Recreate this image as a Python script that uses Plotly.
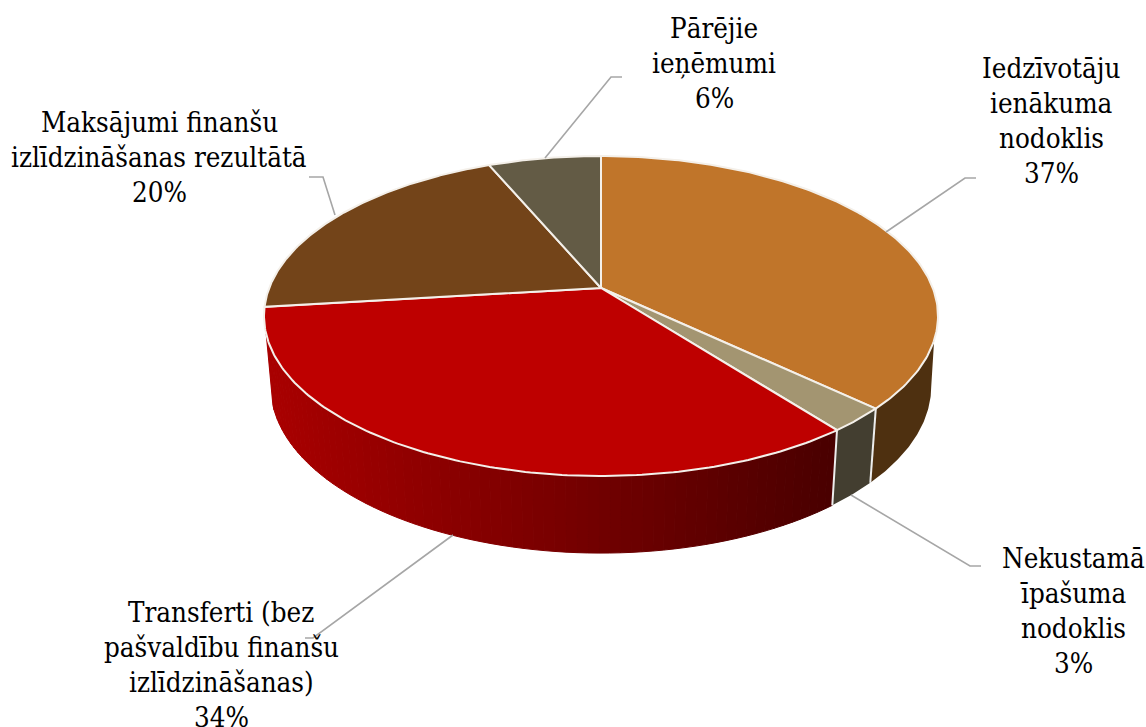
import numpy as np
import plotly.graph_objects as go

categories = [["Iedzīvotāju", "ienākuma", "nodoklis"], ["Nekustamā", "īpašuma", "nodoklis"],
              ["Transferti (bez", "pašvaldību finanšu", "izlīdzināšanas)"],
              ["Maksājumi finanšu", "izlīdzināšanas rezultātā"], ["Pārējie", "ieņēmumi"]]
shares = [37.0, 2.5, 33.6, 20.5, 6.4]
percent_labels = ["37%", "3%", "34%", "20%", "6%"]

top_colors = ["#C0752A", "#A39571", "#BE0000", "#734419", "#635B45"]
side_colors = ["#4E3010", "#433E30"]

# projection of the disc
CX, CY, A, P, K = 601.0, 288.0, 331.8, 155.1, 0.175
SX, SY, DEPTH = 0.98, 1.043, 69.0
# silhouette limits of the wall (degrees clockwise from the back of the disc)
RIGHT_TOP, RIGHT_BOTTOM = np.radians(108.5), np.radians(100.0)
LEFT_LIMIT = np.radians(253.5)


def top(t):
    u, v = np.sin(t), np.cos(t)
    w = 1 + K * v
    return CX + A * u / w, CY - P * v / w


def bottom(t):
    x, y = top(t)
    return CX + (x - CX) * SX, CY + DEPTH + (y - CY) * SY


def red_shade(x):
    f = np.clip((x - 272) / (831 - 272), 0, 1)
    return f"rgb({int(round(168 - 94 * f))},0,0)"


fig = go.Figure()
edges = np.cumsum([0] + shares) / sum(shares) * 2 * np.pi


def poly(xs, ys, fill, line=None, width=0):
    fig.add_trace(go.Scatter(x=list(xs), y=list(ys), mode="lines", fill="toself", fillcolor=fill,
                             line=dict(color=line or fill, width=width), hoverinfo="skip", showlegend=False))


# side walls: first slice
xt, yt = top(np.linspace(RIGHT_TOP, edges[1], 80))
xb, yb = bottom(np.linspace(RIGHT_BOTTOM, edges[1], 80))
poly(np.r_[xt, xb[::-1], xt[0]], np.r_[yt, yb[::-1], yt[0]], side_colors[0])
# second slice
xt, yt = top(np.linspace(edges[1], edges[2], 20))
xb, yb = bottom(np.linspace(edges[1], edges[2], 20))
poly(np.r_[xt, xb[::-1], xt[0]], np.r_[yt, yb[::-1], yt[0]], side_colors[1])
# third slice, shaded from dark (right) to lighter (left)
n = 70
t = np.linspace(edges[2], LEFT_LIMIT, n + 1)
for j in range(n):
    s = np.array([t[j], t[j + 1]])
    xt, yt = top(s)
    xb, yb = bottom(s)
    c = red_shade(xt.mean())
    poly(np.r_[xt, xb[::-1], xt[0]], np.r_[yt, yb[::-1], yt[0]], c, c, 1)

# white vertical joints between the side walls
for e in edges[1:3]:
    xt, yt = top(e)
    xb, yb = bottom(e)
    fig.add_trace(go.Scatter(x=[xt, xb], y=[yt, yb], mode="lines", line=dict(color="#EDEDED", width=2),
                             hoverinfo="skip", showlegend=False))

# top faces
for i in range(len(shares)):
    t = np.linspace(edges[i], edges[i + 1], 160)
    xt, yt = top(t)
    poly(np.r_[CX, xt, CX], np.r_[CY, yt, CY], top_colors[i], "#F4F0EA", 2)

# leader lines
leaders = [
    ([886, 965, 976], [232, 178, 178]),
    ([851, 970, 981], [495, 566, 566]),
    ([453, 313, 305], [535, 638, 638]),
    ([335, 323, 309], [215, 177, 177]),
    ([545, 611, 622], [158, 77, 77]),
]
for lx, ly in leaders:
    fig.add_trace(go.Scatter(x=lx, y=ly, mode="lines", line=dict(color="#A6A6A6", width=1.6),
                             hoverinfo="skip", showlegend=False))

# labels: centre x, y of first line centre, line step
label_pos = [(1051, 68), (1073, 558), (221, 612), (159, 122), (714, 28)]
STEP = 35
for cat, pct, (lx, ly) in zip(categories, percent_labels, label_pos):
    for k, line in enumerate(cat + [pct]):
        fig.add_annotation(x=lx, y=ly + k * STEP, text=line, showarrow=False, align="center",
                           xanchor="center", yanchor="middle",
                           font=dict(family="DejaVu Serif Condensed", size=27.5, color="#000000"))

fig.update_layout(width=1146, height=727, margin=dict(l=0, r=0, t=0, b=0), autosize=False,
                  paper_bgcolor="white", plot_bgcolor="white", showlegend=False,
                  xaxis=dict(range=[0, 1146], visible=False, fixedrange=True),
                  yaxis=dict(range=[727, 0], visible=False, fixedrange=True))
fig.write_html("out.html", config={"displayModeBar": False},
               post_script="document.body.style.margin='0';document.body.style.overflow='hidden';")
